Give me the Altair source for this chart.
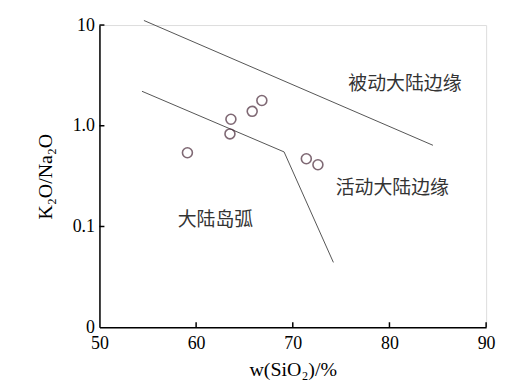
import altair as alt
import pandas as pd

# sample points
sio2 = [59.1, 63.5, 63.6, 65.8, 66.8, 71.4, 72.6]
ratio = [0.54, 0.83, 1.16, 1.39, 1.78, 0.47, 0.41]

# boundary lines
line_id = ["upper", "upper", "lower", "lower", "lower"]
line_order = [0, 1, 0, 1, 2]
line_x = [54.6, 84.5, 54.4, 69.1, 74.2]
line_y = [11.1, 0.64, 2.2, 0.55, 0.044]

# field labels
lab_text = ["被动大陆边缘", "活动大陆边缘", "大陆岛弧"]
lab_x = [81.6, 80.3, 62.0]
lab_y = [2.62, 0.241, 0.1164]

x_ticks = [50, 60, 70, 80, 90]
y_ticks = [0.01, 0.1, 1, 10]
x_inner_ticks = [60, 70, 80, 90]
y_inner_ticks = [0.1, 1, 10]

pts = pd.DataFrame({"x": sio2, "y": ratio})
lines = pd.DataFrame({"id": line_id, "o": line_order, "x": line_x, "y": line_y})
labs = pd.DataFrame({"t": lab_text, "x": lab_x, "y": lab_y})
xt = pd.DataFrame({"x": x_inner_ticks})
yt = pd.DataFrame({"y": y_inner_ticks})

xscale = alt.Scale(domain=[50, 90], nice=False, zero=False)
yscale = alt.Scale(type="log", domain=[0.01, 10], nice=False)

xaxis = alt.Axis(
    title="w(SiO₂)/%", values=x_ticks, format="d",
    grid=False, ticks=False, domainColor="black",
    labelFont="Liberation Serif", labelFontSize=18, labelColor="black", labelPadding=7,
    titleFont="Liberation Serif", titleFontSize=20, titleFontWeight="normal",
    titleColor="black", titlePadding=8, domainWidth=1.5,
    labelFlush=False,
)

yaxis = alt.Axis(
    title="K₂O/Na₂O", values=y_ticks,
    labelExpr="datum.value < 0.05 ? '0' : datum.value < 0.5 ? '0.1' : datum.value < 5 ? '1.0' : '10'",
    grid=False, ticks=False, domainColor="black",
    labelFont="Liberation Serif", labelFontSize=18, labelColor="black", labelPadding=5,
    titleFont="Liberation Serif", titleFontSize=20, titleFontWeight="normal",
    titleColor="black", titlePadding=17, domainWidth=1.5,
    labelFlush=False,
)

line_layer = alt.Chart(lines).mark_line(color="#555555", strokeWidth=1).encode(
    x=alt.X("x:Q", scale=xscale, axis=xaxis),
    y=alt.Y("y:Q", scale=yscale, axis=yaxis),
    detail="id:N",
    order="o:Q",
)

pt_layer = alt.Chart(pts).mark_point(
    shape="circle", filled=False, size=100, color="#4a2a3a", strokeWidth=1.6
).encode(x="x:Q", y="y:Q")

lab_layer = alt.Chart(labs).mark_text(
    font="Noto Sans CJK SC", fontSize=19, color="#333333"
).encode(x="x:Q", y="y:Q", text="t:N")

xtick_layer = alt.Chart(xt).mark_rule(color="black", strokeWidth=1.5).encode(
    x="x:Q", y=alt.value(304), y2=alt.value(299)
)
ytick_layer = alt.Chart(yt).mark_rule(color="black", strokeWidth=1.5).encode(
    y="y:Q", x=alt.value(0), x2=alt.value(5)
)

chart = alt.layer(line_layer, pt_layer, lab_layer, xtick_layer, ytick_layer).properties(
    width=389, height=304,
    autosize=alt.AutoSizeParams(type="none"),
    padding={"left": 92, "top": 16, "right": 20, "bottom": 58},
).configure_view(stroke=None).configure(background="white")

chart.save("out.html", embed_options={"renderer": "svg", "actions": False})
